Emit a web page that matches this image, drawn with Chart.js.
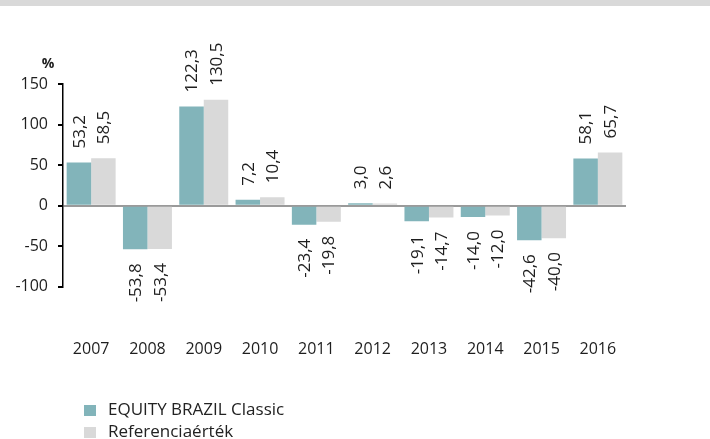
<!DOCTYPE html>
<html>
<head>
<meta charset="utf-8">
<script src="https://cdn.jsdelivr.net/npm/chart.js@4"></script>
<style>
  html, body { margin: 0; padding: 0; background: #fff; }
  body { width: 710px; height: 439px; position: relative; overflow: hidden; font-family: 'Open Sans', sans-serif; }
  .top-band { position: absolute; left: 0; top: 0; width: 710px; height: 6px; background: #d9d9d9; z-index: 2; }
  #chart { position: absolute; left: 0; top: 0; }
  .legend { position: absolute; left: 84px; top: 398px; font-size: 17px; color: #222; }
  .legend div { height: 22px; line-height: 22px; white-space: nowrap; }
  .legend span { display: inline-block; width: 12px; height: 11px; margin-right: 12px; vertical-align: -1px; }
</style>
</head>
<body>
<div class="top-band"></div>
<canvas id="chart" width="710" height="410"></canvas>
<div class="legend" id="legend"></div>
<script>
/* --- Data --- */
const years = ['2007', '2008', '2009', '2010', '2011', '2012', '2013', '2014', '2015', '2016'];
const fundValues = [53.2, -53.8, 122.3, 7.2, -23.4, 3.0, -19.1, -14.0, -42.6, 58.1];
const benchValues = [58.5, -53.4, 130.5, 10.4, -19.8, 2.6, -14.7, -12.0, -40.0, 65.7];
const seriesNames = ['EQUITY BRAZIL Classic', 'Referenciaérték'];
const seriesColors = ['#82b4ba', '#d9d9d9'];
const yTicks = [-100, -50, 0, 50, 100, 150];

const FONT = "'Open Sans', sans-serif";
const TEXT = '#1e1e1e';

/* --- Rotated value labels + unit --- */
const valueLabels = {
  id: 'valueLabels',
  afterDatasetsDraw(chart) {
    const ctx = chart.ctx;
    ctx.save();
    ctx.font = '17px ' + FONT;
    ctx.fillStyle = TEXT;
    ctx.textBaseline = 'middle';
    chart.data.datasets.forEach((ds, i) => {
      chart.getDatasetMeta(i).data.forEach((bar, j) => {
        const v = ds.data[j];
        const txt = v.toFixed(1).replace('.', ',');
        const up = v >= 0;
        ctx.save();
        ctx.translate(bar.x, up ? bar.y - 14 : bar.y + 14);
        ctx.rotate(-Math.PI / 2);
        ctx.textAlign = up ? 'left' : 'right';
        ctx.fillText(txt, 0, 1);
        ctx.restore();
      });
    });
    const y = chart.scales.y;
    ctx.font = 'bold 14px ' + FONT;
    ctx.textAlign = 'center';
    ctx.fillText('%', 48, y.top - 20);
    ctx.restore();
  }
};

const ctx = document.getElementById('chart');
new Chart(ctx, {
  type: 'bar',
  data: {
    labels: years,
    datasets: [
      { label: seriesNames[0], data: fundValues, backgroundColor: seriesColors[0] },
      { label: seriesNames[1], data: benchValues, backgroundColor: seriesColors[1] }
    ]
  },
  options: {
    responsive: false,
    animation: false,
    devicePixelRatio: 1,
    layout: { padding: { left: 14, right: 84, top: 84, bottom: 6 } },
    datasets: { bar: { categoryPercentage: 0.87, barPercentage: 1.0 } },
    scales: {
      x: {
        grid: { display: false },
        border: { display: false },
        ticks: { color: TEXT, font: { family: FONT, size: 16 }, padding: 45, maxRotation: 0 }
      },
      y: {
        min: -100,
        max: 150,
        afterBuildTicks: axis => { axis.ticks = yTicks.map(v => ({ value: v })); },
        afterFit: axis => { axis.width = 49; },
        border: { display: true, color: '#000', width: 1.5 },
        grid: {
          color: c => c.tick && c.tick.value === 0 ? '#9a9a9a' : 'rgba(0,0,0,0)',
          lineWidth: 2,
          tickColor: '#000',
          tickLength: 5
        },
        ticks: { color: TEXT, font: { family: FONT, size: 16 }, padding: 10 }
      }
    },
    plugins: {
      legend: { display: false },
      tooltip: { enabled: false }
    }
  },
  plugins: [valueLabels]
});

/* --- Legend --- */
document.getElementById('legend').innerHTML = seriesNames.map((n, i) =>
  '<div><span style="background:' + seriesColors[i] + '"></span>' + n + '</div>'
).join('');
</script>
</body>
</html>
